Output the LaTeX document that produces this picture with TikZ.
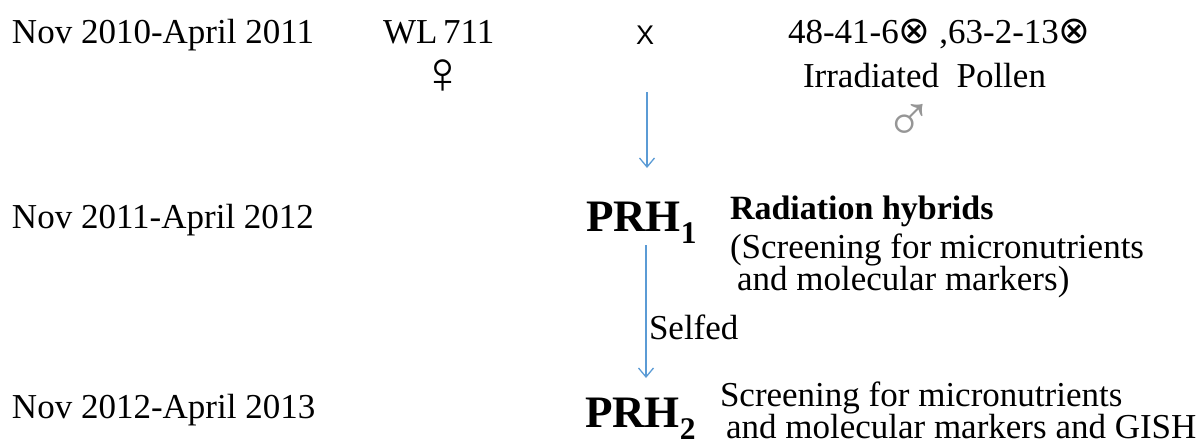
\documentclass[tikz,border=0pt]{standalone}
\usepackage{fontspec}
\setmainfont{Liberation Serif}
\newfontfamily\symfont{DejaVu Sans}
\newfontfamily\arialfont{Liberation Sans}
\usetikzlibrary{arrows.meta}
\definecolor{arrowblue}{RGB}{91,155,213}
\definecolor{symgrey}{RGB}{150,150,150}
\newcommand{\otim}{{\symfont\fontsize{38}{40}\selectfont ⊗}}
\tikzset{
  txt/.style={inner sep=0pt, outer sep=0pt, anchor=base west, font=\fontsize{35}{40}\selectfont},
  prh/.style={inner sep=0pt, outer sep=0pt, anchor=base west, font=\fontsize{45}{50}\selectfont\bfseries},
  sym/.style={inner sep=0pt, outer sep=0pt, anchor=base, text height=24pt, text depth=0pt, font=\fontsize{60}{62}\selectfont},
  flow/.style={draw=arrowblue, line width=1.3pt, -{Straight Barb[length=9pt,width=15pt,line width=1.3pt]}}
}
\begin{document}
\begin{tikzpicture}[x=1pt,y=-1pt]
\useasboundingbox (0,0) rectangle (1198,444);
% dates
\node[txt] (d1) at (12,44) {Nov 2010-April 2011};
\node[txt] (d2) at (12,228) {Nov 2011-April 2012};
\node[txt] (d3) at (12,418) {Nov 2012-April 2013};
% parents
\node[txt] (wl) at (383,44) {WL\,711};
\node[sym] (fem) at (443,93) {♀};
\node[inner sep=0pt, outer sep=0pt, anchor=base, font=\fontsize{27}{30}\selectfont\arialfont] (cross) at (645,45) {X};
\node[txt] (male) at (788,44) {48-41-6\otim\ ,63-2-13\otim};
\node[txt] (irr) at (803,87) {Irradiated\ \ Pollen};
\node[sym, text=symgrey, text height=28pt, font=\fontsize{66}{68}\selectfont] (mal) at (909,141) {♂};
% generations
\node[prh] (prh1) at (586,231) {PRH\textsubscript{1}};
\node[txt, font=\fontsize{34}{40}\selectfont\bfseries] (rh) at (730,219) {Radiation hybrids};
\node[txt] (rh2) at (730,258) {(Screening for micronutrients};
\node[txt] (rh3) at (737,290) {and molecular markers)};
\node[prh] (prh2) at (585,427) {PRH\textsubscript{2}};
\node[txt] (sc1) at (720,406) {Screening for micronutrients};
\node[txt] (sc2) at (726,438) {and molecular markers and GISH};
% arrows
\coordinate (a1s) at (647,92);
\coordinate (a1e) at (647,168);
\coordinate (a2s) at (646,245);
\coordinate (a2e) at (646,378);
\draw[flow] (a1s) -- (a1e);
\draw[flow] (a2s) -- (a2e);
\node[txt] (self) at (649,339) {Selfed};
\end{tikzpicture}
\end{document}
